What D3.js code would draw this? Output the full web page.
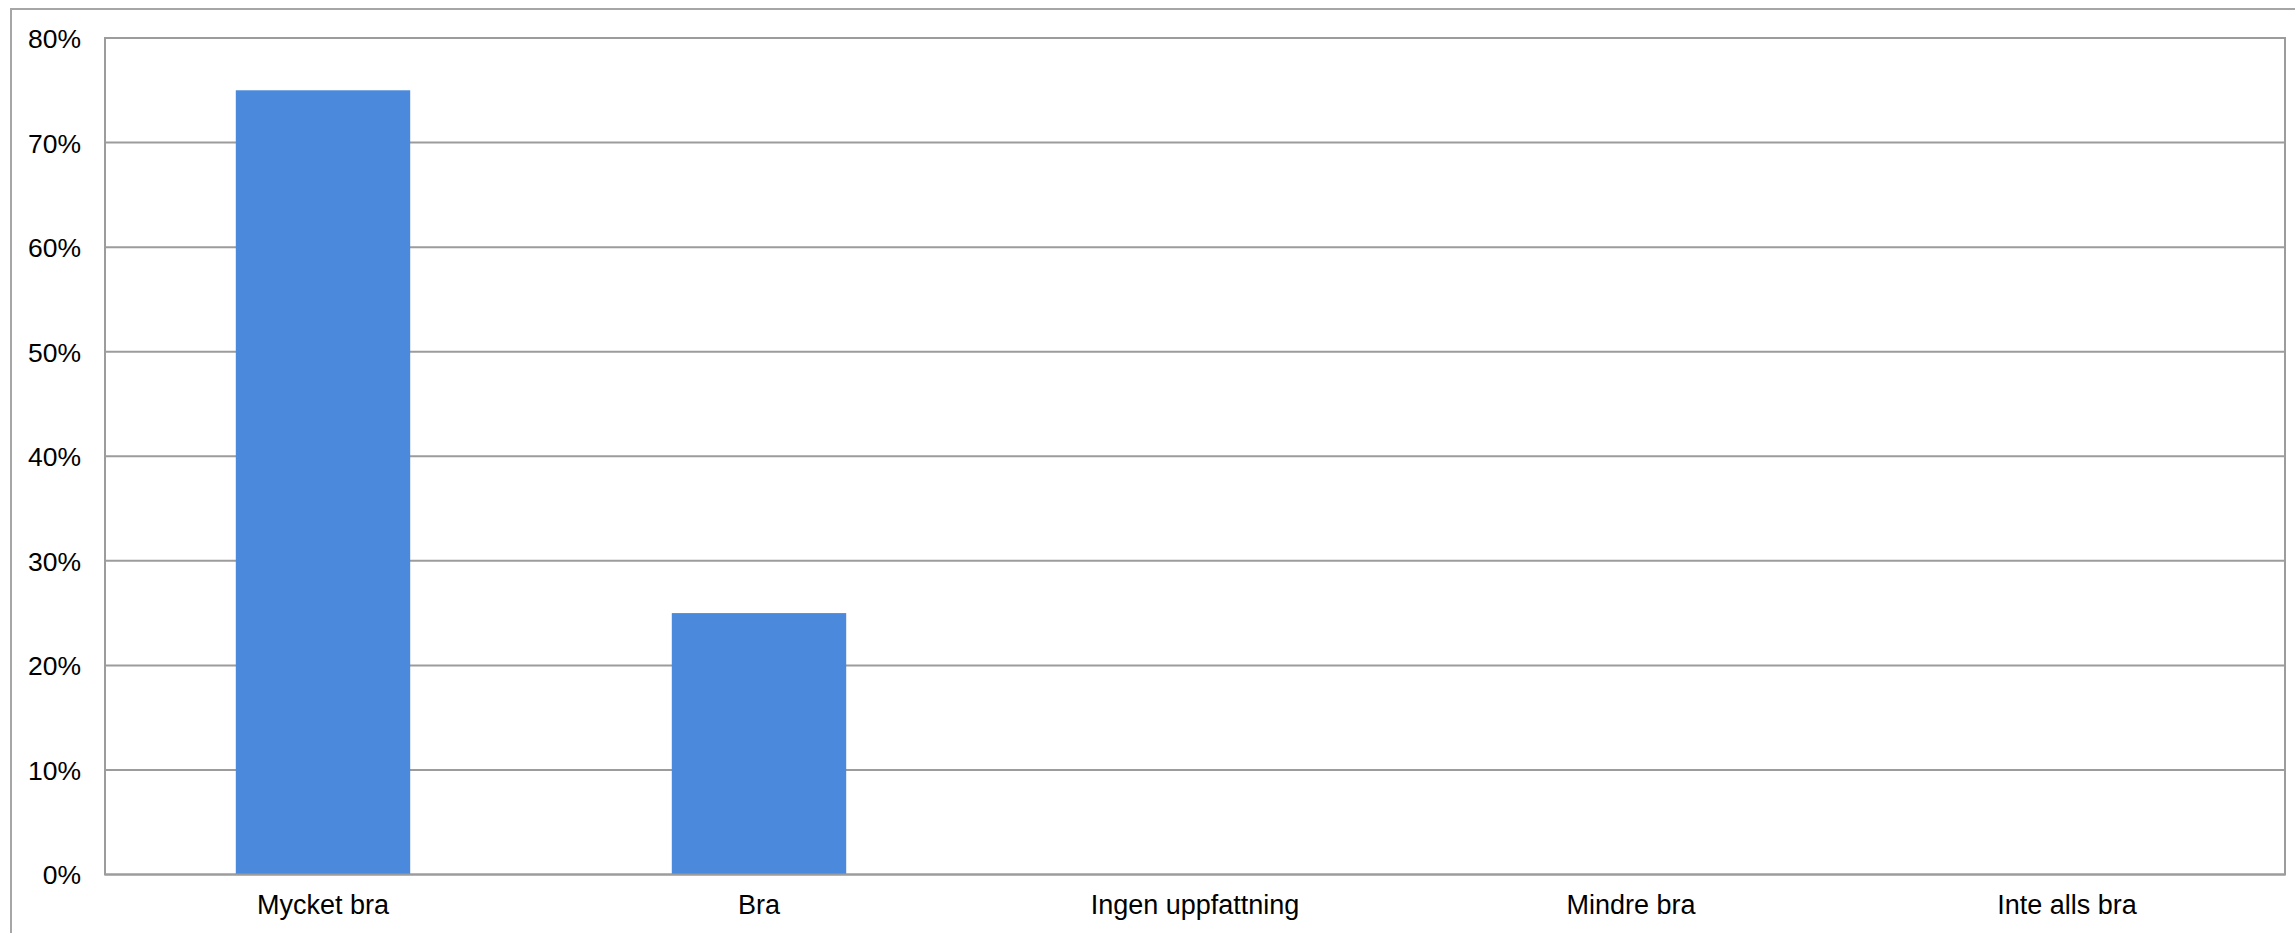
<!DOCTYPE html>
<html><head><meta charset="utf-8">
<script src="https://cdn.jsdelivr.net/npm/d3@7"></script>
<style>html,body{margin:0;padding:0;background:#fff;overflow:hidden}</style>
</head><body>
<svg id="c" width="2295" height="933"></svg>
<script>
const categories = ["Mycket bra", "Bra", "Ingen uppfattning", "Mindre bra", "Inte alls bra"];
const values = [75, 25, 0, 0, 0];
const yTicks = [0, 10, 20, 30, 40, 50, 60, 70, 80];

const svg = d3.select("#c");
const L = 105, R = 2285, T = 38, B = 874.5;

// outer frame
svg.append("rect").attr("x", 11).attr("y", 9).attr("width", 2400).attr("height", 1000)
  .attr("fill", "#fff").attr("stroke", "#a6a6a6").attr("stroke-width", 2);

const x = d3.scaleBand().domain(categories).range([L, R]).paddingInner(0.6).paddingOuter(0.3);
const y = d3.scaleLinear().domain([0, 80]).range([B, T]);

// gridlines
svg.append("g").selectAll("line").data(yTicks).join("line")
  .attr("x1", L).attr("x2", R).attr("y1", d => y(d)).attr("y2", d => y(d))
  .attr("stroke", "#9c9c9c").attr("stroke-width", 2);

// bars
svg.append("g").selectAll("rect").data(values).join("rect")
  .attr("x", (d, i) => x(categories[i]))
  .attr("width", x.bandwidth())
  .attr("y", d => y(d))
  .attr("height", d => B - y(d))
  .attr("fill", "#4a89dc");

// plot border
svg.append("rect").attr("x", L).attr("y", T).attr("width", R - L).attr("height", B - T)
  .attr("fill", "none").attr("stroke", "#9c9c9c").attr("stroke-width", 2);

// y axis labels
const yAxis = d3.axisLeft(y).tickValues(yTicks).tickFormat(d => d + "%").tickSize(0).tickPadding(24);
const gy = svg.append("g").attr("transform", `translate(${L},1)`).call(yAxis);
gy.select(".domain").remove();
gy.selectAll("text").attr("font-family", "Liberation Sans, Arial, sans-serif").attr("font-size", 26.5).attr("fill", "#000");

// x axis labels
const xAxis = d3.axisBottom(x).tickSize(0).tickPadding(20);
const gx = svg.append("g").attr("transform", `translate(0,${B})`).call(xAxis);
gx.select(".domain").remove();
gx.selectAll("text").attr("font-family", "Liberation Sans, Arial, sans-serif").attr("font-size", 27).attr("fill", "#000");
</script>
</body></html>
